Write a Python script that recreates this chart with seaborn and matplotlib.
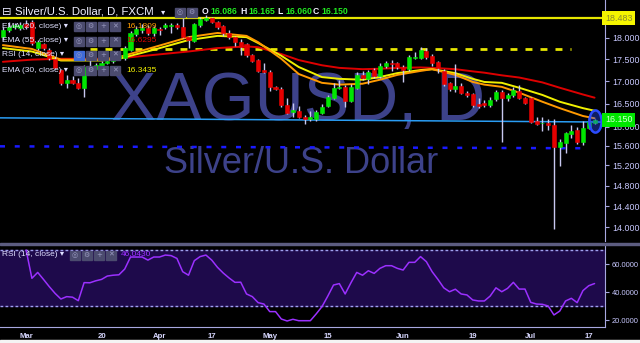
import numpy as np
import pandas as pd
import matplotlib
matplotlib.use("Agg")
import matplotlib.pyplot as plt
import seaborn as sns
from matplotlib.path import Path
from matplotlib.transforms import Affine2D, blended_transform_factory
from matplotlib.patches import Rectangle
from matplotlib.ticker import NullLocator

sns.set_style("dark")
plt.rcParams['font.family'] = ['Liberation Sans', 'DejaVu Sans']

# ---------------- data ----------------
all_days = pd.bdate_range('2017-02-23', '2017-07-18')
dates = all_days[all_days != pd.Timestamp('2017-04-14')]

open_ = [18.02, 18.19, 18.26, 18.24, 18.33, 18.39, 17.76, 17.85, 17.72, 17.51,
         17.25, 16.96, 17.03, 16.96, 16.85, 17.32, 17.28, 17.34, 17.42, 17.45,
         17.53, 17.53, 17.72, 18.10, 18.19, 18.24, 18.12, 18.21, 18.26, 18.30,
         18.31, 18.26, 18.02, 17.92, 18.31, 18.44, 18.48, 18.39, 18.28, 18.12,
         18.02, 17.90, 17.85, 17.60, 17.49, 17.25, 17.21, 16.87, 16.83, 16.47,
         16.32, 16.34, 16.21, 16.16, 16.16, 16.30, 16.45, 16.62, 16.85, 16.87,
         16.56, 16.85, 17.14, 17.05, 17.25, 17.12, 17.34, 17.41, 17.41, 17.32,
         17.27, 17.53, 17.53, 17.70, 17.58, 17.44, 17.23, 16.96, 16.83, 16.89,
         16.74, 16.71, 16.49, 16.51, 16.47, 16.60, 16.76, 16.62, 16.69, 16.78,
         16.62, 16.62, 16.12, 16.07, 16.08, 16.04, 15.57, 15.65, 15.85, 15.93,
         15.67, 15.98, 16.086]
close = [18.19, 18.26, 18.31, 18.31, 18.26, 17.88, 17.90, 17.76, 17.53, 17.30,
         16.96, 17.03, 16.96, 16.85, 17.32, 17.27, 17.36, 17.41, 17.45, 17.52,
         17.60, 17.76, 18.12, 18.21, 18.24, 18.12, 18.24, 18.19, 18.31, 18.31,
         18.26, 18.02, 17.95, 18.33, 18.46, 18.48, 18.39, 18.26, 18.12, 18.02,
         17.90, 17.78, 17.60, 17.47, 17.23, 17.21, 16.87, 16.83, 16.47, 16.30,
         16.35, 16.21, 16.16, 16.21, 16.32, 16.43, 16.64, 16.85, 16.87, 16.56,
         16.87, 17.14, 17.07, 17.21, 17.12, 17.34, 17.41, 17.39, 17.32, 17.25,
         17.55, 17.55, 17.72, 17.55, 17.41, 17.30, 16.94, 16.83, 16.89, 16.74,
         16.69, 16.47, 16.45, 16.47, 16.58, 16.76, 16.62, 16.69, 16.80, 16.62,
         16.51, 16.10, 16.06, 16.09, 16.04, 15.57, 15.67, 15.87, 15.91, 15.67,
         15.98, 16.10, 16.150]
high = [18.26, 18.39, 18.37, 18.39, 18.44, 18.44, 17.95, 17.88, 17.76, 17.55,
        17.28, 17.14, 17.12, 17.07, 17.36, 17.55, 17.42, 17.47, 17.55, 17.58,
        17.64, 17.80, 18.17, 18.28, 18.33, 18.31, 18.28, 18.26, 18.35, 18.37,
        18.37, 18.48, 18.05, 18.37, 18.50, 18.55, 18.52, 18.42, 18.31, 18.19,
        18.05, 17.97, 17.88, 17.62, 17.51, 17.41, 17.25, 16.90, 16.87, 16.62,
        16.51, 16.45, 16.25, 16.34, 16.36, 16.48, 16.69, 16.96, 17.03, 16.92,
        16.94, 17.21, 17.23, 17.25, 17.30, 17.42, 17.47, 17.49, 17.44, 17.36,
        17.60, 17.66, 17.78, 17.76, 17.62, 17.47, 17.27, 16.98, 17.39, 16.96,
        16.78, 16.74, 16.62, 16.58, 16.65, 16.80, 16.80, 16.74, 16.87, 16.92,
        16.65, 16.65, 16.21, 16.21, 16.16, 16.16, 15.74, 15.89, 16.04, 16.00,
        16.12, 16.23, 16.165]
low = [17.95, 18.15, 18.22, 18.20, 18.22, 17.83, 17.72, 17.72, 17.49, 17.27,
       16.92, 16.85, 16.94, 16.83, 16.65, 17.24, 17.24, 17.30, 17.38, 17.42,
       17.48, 17.49, 17.70, 18.05, 18.12, 18.07, 18.05, 18.07, 18.21, 18.12,
       18.21, 18.00, 17.76, 17.90, 18.26, 18.40, 18.35, 18.21, 18.05, 17.97,
       17.80, 17.60, 17.55, 17.44, 17.20, 17.18, 16.78, 16.80, 16.43, 16.27,
       16.21, 16.18, 16.06, 16.12, 16.12, 16.27, 16.42, 16.60, 16.82, 16.42,
       16.53, 16.82, 17.03, 16.94, 17.07, 17.08, 17.30, 17.23, 17.28, 16.98,
       17.23, 17.51, 17.51, 17.51, 17.35, 17.18, 16.90, 16.78, 16.76, 16.70,
       16.65, 16.43, 16.40, 16.43, 16.43, 16.56, 15.67, 16.55, 16.65, 16.60,
       16.49, 16.08, 16.04, 15.91, 15.93, 13.97, 15.18, 15.45, 15.76, 15.63,
       15.61, 15.95, 16.060]

nan = np.nan
rsi = [nan, nan, nan, nan, 70.0, 49.8, 54.0, 49.0, 43.8, 39.0,
       35.0, 36.7, 36.3, 33.8, 46.7, 46.6, 48.0, 49.0, 51.4, 52.0,
       52.3, 56.4, 65.0, 65.0, 65.0, 62.8, 65.0, 65.0, 66.4, 66.0,
       64.0, 54.5, 52.0, 62.4, 65.3, 66.4, 62.8, 57.6, 53.5, 50.0,
       46.9, 47.0, 38.6, 36.7, 32.4, 31.4, 26.0, 26.0, 20.7, 19.3,
       20.5, 19.5, 19.5, 19.5, 24.3, 29.5, 37.0, 45.0, 46.0, 38.6,
       46.6, 54.0, 52.0, 55.2, 53.3, 56.9, 58.8, 58.8, 56.9, 55.7,
       61.2, 61.2, 65.3, 61.7, 54.5, 49.0, 43.0, 40.2, 42.0, 38.6,
       37.9, 34.3, 33.6, 33.6, 37.1, 43.0, 40.2, 42.6, 46.9, 42.1,
       42.1, 32.6, 31.4, 31.2, 30.0, 23.6, 26.4, 33.6, 35.5, 32.4,
       41.0, 44.5, 46.043]

ema_bar = [0, 5, 10, 17, 20, 26, 32, 37, 42, 44, 48, 51, 55, 58, 62, 65, 68,
           72, 74, 78, 81, 83, 86, 89, 93, 96, 100, 102]
ema20 = [17.83, 17.74, 17.49, 17.49, 17.55, 17.78, 18.02, 18.12, 18.05, 17.90,
         17.51, 17.16, 16.96, 16.92, 16.94, 17.03, 17.14, 17.23, 17.27, 17.14,
         16.98, 16.92, 16.87, 16.74, 16.54, 16.40, 16.23, 16.1809]
ema30 = [17.76, 17.68, 17.47, 17.47, 17.51, 17.72, 17.95, 18.05, 18.02, 17.88,
         17.58, 17.32, 17.09, 17.05, 17.03, 17.09, 17.18, 17.25, 17.27, 17.18,
         17.05, 16.98, 16.96, 16.85, 16.69, 16.54, 16.40, 16.3435]
ema55 = [17.44, 17.49, 17.51, 17.51, 17.52, 17.60, 17.68, 17.76, 17.80, 17.78,
         17.62, 17.48, 17.36, 17.30, 17.27, 17.28, 17.30, 17.31, 17.30, 17.27,
         17.22, 17.19, 17.13, 17.08, 16.97, 16.85, 16.70, 16.6295]

resistance = 18.483
yellow_dash_level = 17.75
yellow_dash_span = [15, 98]
trend_bars = [-0.5, 103.8]
trend_vals = [16.19, 16.10]
support_bars = [-0.5, 100.7]
support_vals = [15.59, 15.55]

price_ticks = [14.0, 14.4, 14.8, 15.2, 15.6, 16.0, 16.5, 17.0, 17.5, 18.0]
rsi_ticks = [20, 40, 60]
tick_dates = ['2017-03-01', '2017-03-20', '2017-04-03', '2017-04-17', '2017-05-01',
              '2017-05-15', '2017-06-01', '2017-06-19', '2017-07-03', '2017-07-17']
tick_labels = ['Mar', '20', 'Apr', '17', 'May', '15', 'Jun', '19', 'Jul', '17']

# ---------------- figure ----------------
W, H = 640, 343
fig = plt.figure(figsize=(6.4, 3.43), dpi=100, facecolor='black')
ax = fig.add_axes([0, 1 - 241 / H, 605 / W, 241 / H])
ax2 = fig.add_axes([0, 1 - 327 / H, 605 / W, 83 / H], sharex=ax)
for a in (ax, ax2):
    a.set_facecolor('black')
    a.grid(False)
    for s in a.spines.values():
        s.set_visible(False)

LAV = '#a8a8e0'
TXT = '#c8c8ff'

idx = np.arange(len(dates))
o = np.array(open_); c = np.array(close); hi = np.array(high); lo = np.array(low)
up = c >= o
cols = np.where(up, '#00e600', '#e60000')

ax.set_yscale('log')
ax.set_ylim(13.75, 18.93)
ax.set_xlim(-0.5, 103.8)

# watermark
ax.text(0.4926, 0.502, 'XAGUSD, D', transform=ax.transAxes, ha='center', va='baseline',
        fontsize=49, color='#3d428a', zorder=0.5)
ax.text(0.4975, 0.282, 'Silver/U.S. Dollar', transform=ax.transAxes, ha='center', va='baseline',
        fontsize=26, color='#3d428a', zorder=0.5)

# levels
ax.axhline(resistance, color='#e6e600', lw=1.6, zorder=2)
ax.plot(yellow_dash_span, [yellow_dash_level] * 2, color='#e6e600', lw=2, dashes=(2.5, 2.9), zorder=2)
ax.plot(trend_bars, trend_vals, color='#2a9df4', lw=1.1, zorder=2)
ax.plot(support_bars, support_vals, color='#1a1aff', lw=1.8, dashes=(2.0, 3.9), zorder=2)

# EMAs
sns.lineplot(x=ema_bar, y=ema55, ax=ax, color='#dd0000', lw=1.4, zorder=3)
sns.lineplot(x=ema_bar, y=ema30, ax=ax, color='#f0f000', lw=1.4, zorder=3)
sns.lineplot(x=ema_bar, y=ema20, ax=ax, color='#ff9a00', lw=1.4, zorder=3)

# candles
ax.vlines(idx, lo, hi, colors='#c8c8f0', lw=1, zorder=4)
ax.bar(idx, np.abs(c - o), bottom=np.minimum(o, c), width=0.7, color=cols,
       edgecolor=cols, linewidth=0.4, zorder=5)

# highlight ellipse on last bar
circ = Path.unit_circle()
ell = Path(Affine2D().scale(0.55, 1.0).transform(circ.vertices), circ.codes)
ax.plot([idx[-1]], [(hi[-1] + lo[-1]) / 2], marker=ell, ms=16, mfc=(0.15, 0.3, 1, 0.4),
        mec='#2b4cff', mew=1.8, ls='none', zorder=6)

# price axis
ax.yaxis.tick_right()
ax.set_yticks(price_ticks)
ax.set_yticklabels([f'{v:.3f}' for v in price_ticks])
ax.yaxis.set_minor_locator(NullLocator())
ax.tick_params(axis='y', colors=LAV, labelcolor=TXT, labelsize=6.4, length=3, width=0.8, pad=2)
ax.tick_params(axis='x', bottom=False, labelbottom=False)
ax.spines['right'].set_visible(True)
ax.spines['right'].set_color(LAV)
ax.set_ylabel(''); ax.set_xlabel('')

tr = blended_transform_factory(ax.transAxes, ax.transData)
ax.text(1.0, resistance, f'{resistance:.3f}', transform=tr, ha='left', va='center',
        fontsize=6.4, color='#8a8a30', clip_on=False, zorder=10,
        bbox=dict(boxstyle='square,pad=0.3', fc='#f5f500', ec='none'))
ax.text(1.0, close[-1], f'{close[-1]:.3f}', transform=tr, ha='left', va='center',
        fontsize=6.4, color='#d8ffd8', clip_on=False, zorder=10,
        bbox=dict(boxstyle='square,pad=0.3', fc='#00e600', ec='none'))

# RSI pane
ax2.set_ylim(15, 74.3)
ax2.axhspan(30, 70, color='#1e0a4b', zorder=0)
ax2.axhline(70, color='#a0a0f0', lw=1, dashes=(2, 1.6), zorder=1)
ax2.axhline(30, color='#a0a0f0', lw=1, dashes=(2, 1.6), zorder=1)
sns.lineplot(x=idx, y=rsi, ax=ax2, color='#9b30ff', lw=1.1, zorder=3)
ax2.yaxis.tick_right()
ax2.set_yticks(rsi_ticks)
ax2.set_yticklabels([f'{v:.4f}' for v in rsi_ticks])
ax2.tick_params(axis='y', colors=LAV, labelcolor=TXT, labelsize=5.4, length=3, width=0.8, pad=2)
tick_idx = [int(np.where(dates == pd.Timestamp(d))[0][0]) for d in tick_dates]
ax2.set_xticks(tick_idx)
ax2.set_xticklabels(tick_labels, fontweight='bold')
ax2.tick_params(axis='x', colors=LAV, labelcolor='#d8d8ff', labelsize=5.6, length=2, width=0.8, pad=2)
ax2.spines['right'].set_visible(True); ax2.spines['right'].set_color(LAV)
ax2.spines['bottom'].set_visible(True); ax2.spines['bottom'].set_color(LAV)
ax2.set_ylabel(''); ax2.set_xlabel('')

# separators / strips
fig.add_artist(Rectangle((0, 1 - 245 / H), 1, 2 / H, transform=fig.transFigure, color='#5c5c80', zorder=5))
fig.add_artist(Rectangle((0, 0), 1, 3 / H, transform=fig.transFigure, color='#f4f4f4', zorder=5))


def P(x, y):
    return x / W, 1 - y / H


def buttons(x0, y, n, highlight=False):
    syms = ['◎', '⚙', '+', '✕']
    for k in range(n):
        fc = '#3f6ad8' if (highlight and k == 0) else '#4b4b6e'
        fig.add_artist(Rectangle(P(x0 + k * 12, y + 4.5), 9.5 / W, 9 / H,
                                 transform=fig.transFigure, color=fc, zorder=8))
        fig.text(*P(x0 + k * 12 + 4.75, y), syms[k], ha='center', va='center', fontsize=5,
                 color='#9a9ac0', zorder=9, family=['DejaVu Sans'])


# header
fig.text(*P(2, 12), '⊟', ha='left', va='center', fontsize=8.2, color='#e8e8ff', family=['DejaVu Sans'])
fig.text(*P(15, 12), 'Silver/U.S. Dollar, D, FXCM', ha='left', va='center', fontsize=8.2, color='#f0f0ff')
fig.text(*P(161, 12), '▾', ha='left', va='center', fontsize=6, color='#e8e8ff', family=['DejaVu Sans'])
buttons(175, 12, 2)
ohlc = [('O', open_[-1], 202), ('H', high[-1], 240), ('L', low[-1], 277), ('C', close[-1], 313)]
for lab, val, x in ohlc:
    fig.text(*P(x, 12), lab, ha='left', va='center', fontsize=6.2, color='#f0f0ff', fontweight='bold')
    fig.text(*P(x + 8.5, 12), f'{val:.3f}', ha='left', va='center', fontsize=6.2, color='#22ee22',
             fontweight='bold')

legend_rows = [('EMA (20, close)', 26, f'{ema20[-1]:.4f}', '#ff9a00', False),
               ('EMA (55, close)', 41, f'{ema55[-1]:.4f}', '#dd0000', False),
               ('RSI (14, close)', 55, None, None, True),
               ('EMA (30, close)', 70, f'{ema30[-1]:.4f}', '#f0f000', False)]
for name, y, val, col, hl in legend_rows:
    fig.text(*P(2, y), name + ' ▾', ha='left', va='center', fontsize=6, color='#e0e0ff', zorder=9)
    buttons(74, y, 4, hl)
    if val:
        fig.text(*P(126, y), val, ha='left', va='center', fontsize=6, color=col, zorder=9)

fig.text(*P(2, 255), 'RSI (14, close) ▾', ha='left', va='center', fontsize=6, color='#e0e0ff', zorder=9)
buttons(70, 255, 4)
fig.text(*P(121, 255), f'{rsi[-1]:.4f}', ha='left', va='center', fontsize=6, color='#9b30ff', zorder=9)

fig.savefig('out.png', dpi=100, facecolor='black')
